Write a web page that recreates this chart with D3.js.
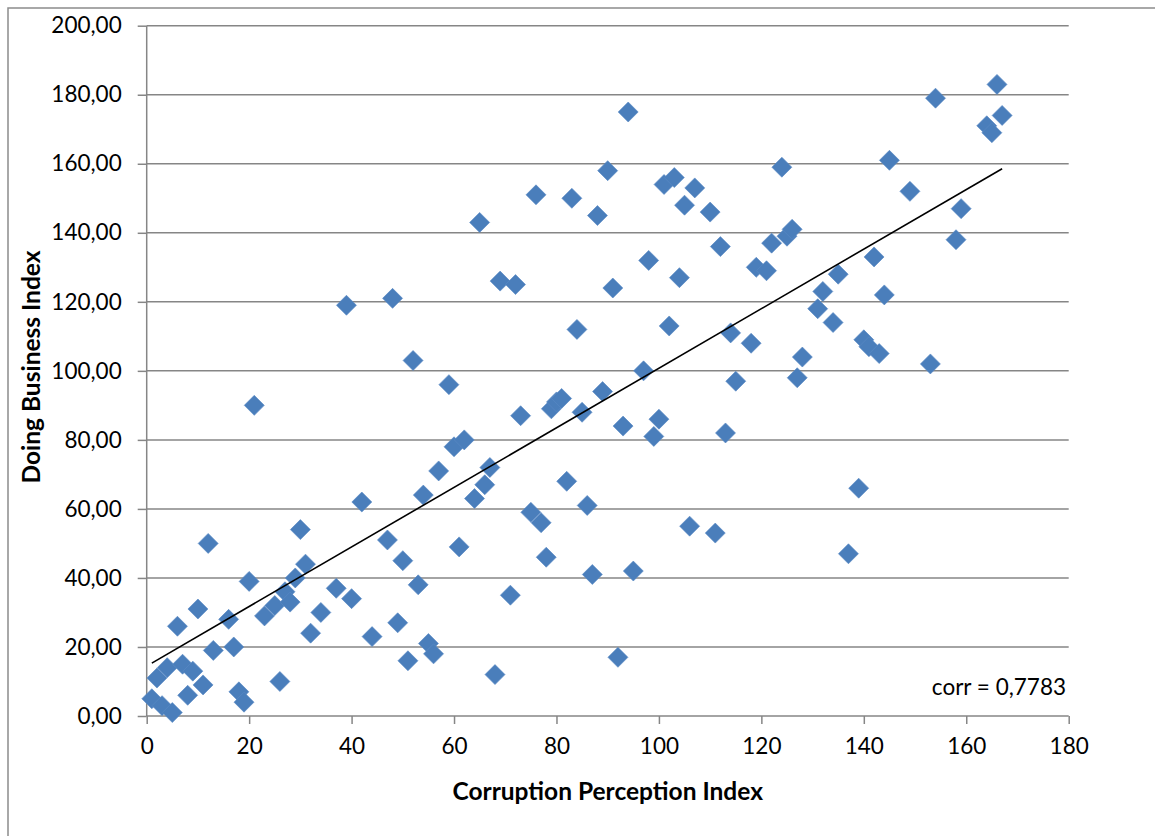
<!DOCTYPE html>
<html>
<head>
<meta charset="utf-8">
<script src="https://cdn.jsdelivr.net/npm/d3@7"></script>
<style>
  body { margin: 0; background: #fff; }
  svg { display: block; font-family: Lato, "Open Sans", sans-serif; }
</style>
</head>
<body>
<svg id="chart"></svg>
<script>
// Corruption Perception Index (x) vs Doing Business Index (y)
const cpi = [1, 3, 5, 2, 4, 7, 9, 8, 11, 6, 10, 12, 13, 16, 17, 18, 19, 20, 23, 25,
  26, 27, 28, 29, 30, 31, 32, 34, 37, 40, 42, 44, 47, 49, 50, 51, 53, 54, 55, 56,
  61, 21, 39, 48, 52, 59, 60, 57, 62, 64, 66, 67, 65, 69, 72, 73, 76, 71, 75, 77,
  78, 68, 79, 80, 81, 82, 83, 84, 85, 86, 87, 88, 89, 90, 91, 92, 93, 94, 95, 97,
  98, 99, 100, 101, 102, 103, 104, 105, 106, 107, 110, 111, 112, 113, 114, 115, 118, 119, 121, 122,
  124, 125, 126, 127, 128, 131, 132, 134, 135, 137, 139, 140, 141, 142, 143, 144, 145, 149, 153, 154,
  158, 159, 164, 165, 166, 167];
const dbi = [5, 3, 1, 11, 14, 15, 13, 6, 9, 26, 31, 50, 19, 28, 20, 7, 4, 39, 29, 32,
  10, 36, 33, 40, 54, 44, 24, 30, 37, 34, 62, 23, 51, 27, 45, 16, 38, 64, 21, 18,
  49, 90, 119, 121, 103, 96, 78, 71, 80, 63, 67, 72, 143, 126, 125, 87, 151, 35, 59, 56,
  46, 12, 89, 91, 92, 68, 150, 112, 88, 61, 41, 145, 94, 158, 124, 17, 84, 175, 42, 100,
  132, 81, 86, 154, 113, 156, 127, 148, 55, 153, 146, 53, 136, 82, 111, 97, 108, 130, 129, 137,
  159, 139, 141, 98, 104, 118, 123, 114, 128, 47, 66, 109, 107, 133, 105, 122, 161, 152, 102, 179,
  138, 147, 171, 169, 183, 174];

const xTicks = [0, 20, 40, 60, 80, 100, 120, 140, 160, 180];
const yTicks = [0, 20, 40, 60, 80, 100, 120, 140, 160, 180, 200];
const xTitle = "Corruption Perception Index";
const yTitle = "Doing Business Index";
const corrLabel = "corr = 0,7783";

const width = 1155;
const height = 836;
const pLeft = 146.7, pRight = 1068.7, pTop = 25.7, pBottom = 716;
const gridColor = "#868686";
const dotColor = "#4a7ebb";

const svg = d3.select("#chart").attr("width", width).attr("height", height);

// outer chart frame (runs off the right and bottom edge)
svg.append("rect").attr("x", 8).attr("y", 8).attr("width", 1200).attr("height", 900)
  .attr("fill", "#fff").attr("stroke", "#8c8c8c").attr("stroke-width", 1.5);

const x = d3.scaleLinear().domain([0, 180]).range([pLeft, pRight]);
const y = d3.scaleLinear().domain([0, 200]).range([pBottom, pTop]);

const locale = d3.formatLocale({ decimal: ",", thousands: ".", grouping: [3], currency: ["", ""] });
const yFormat = locale.format(".2f");

// horizontal gridlines
svg.append("g").selectAll("line").data(yTicks.slice(1)).enter().append("line")
  .attr("x1", pLeft).attr("x2", pRight)
  .attr("y1", d => y(d)).attr("y2", d => y(d))
  .attr("stroke", gridColor).attr("stroke-width", 1.5);

// y axis
const yAxis = svg.append("g").attr("transform", `translate(${pLeft},0)`)
  .call(d3.axisLeft(y).tickValues(yTicks).tickFormat(yFormat).tickSize(9).tickPadding(16));
// x axis
const xAxis = svg.append("g").attr("transform", `translate(0,${pBottom})`)
  .call(d3.axisBottom(x).tickValues(xTicks).tickSize(8).tickPadding(14));

[xAxis, yAxis].forEach(ax => {
  ax.select(".domain").attr("stroke", gridColor).attr("stroke-width", 1.5);
  ax.selectAll(".tick line").attr("stroke", gridColor).attr("stroke-width", 1.5);
  ax.selectAll(".tick text").attr("fill", "#000").style("font-size", "22.5px")
    .style("font-family", "Lato, 'Open Sans', sans-serif");
});
xAxis.select(".domain").attr("d", `M${pLeft},0H${pRight}`);
yAxis.select(".domain").attr("d", `M0,${pBottom}V${pTop}`);

// linear trendline (least squares over the points)
const n = cpi.length;
const mx = d3.mean(cpi), my = d3.mean(dbi);
let sxy = 0, sxx = 0;
for (let i = 0; i < n; i++) {
  sxy += (cpi[i] - mx) * (dbi[i] - my);
  sxx += (cpi[i] - mx) * (cpi[i] - mx);
}
const slope = sxy / sxx;
const intercept = my - slope * mx;
const xExt = d3.extent(cpi);

// points
const pts = cpi.map((v, i) => ({ cx: v, cy: dbi[i] }));
svg.append("g").selectAll("path").data(pts).enter().append("path")
  .attr("d", d3.symbol().type(d3.symbolSquare).size(200))
  .attr("transform", d => `translate(${x(d.cx)},${y(d.cy)}) rotate(45)`)
  .attr("fill", dotColor).attr("stroke", "#5a8ac4").attr("stroke-width", 0.6);

svg.append("line")
  .attr("x1", x(xExt[0])).attr("y1", y(intercept + slope * xExt[0]))
  .attr("x2", x(xExt[1])).attr("y2", y(intercept + slope * xExt[1]))
  .attr("stroke", "#000").attr("stroke-width", 1.6);

// labels
svg.append("text").text(corrLabel).attr("x", 1066).attr("y", 695)
  .attr("text-anchor", "end").style("font-size", "22.5px");

svg.append("text").text(xTitle).attr("x", (pLeft + pRight) / 2).attr("y", 800)
  .attr("text-anchor", "middle").style("font-size", "24.5px").style("font-weight", "bold");

svg.append("text").text(yTitle)
  .attr("transform", "translate(40,367) rotate(-90)")
  .attr("text-anchor", "middle").style("font-size", "24.5px").style("font-weight", "bold");
</script>
</body>
</html>
